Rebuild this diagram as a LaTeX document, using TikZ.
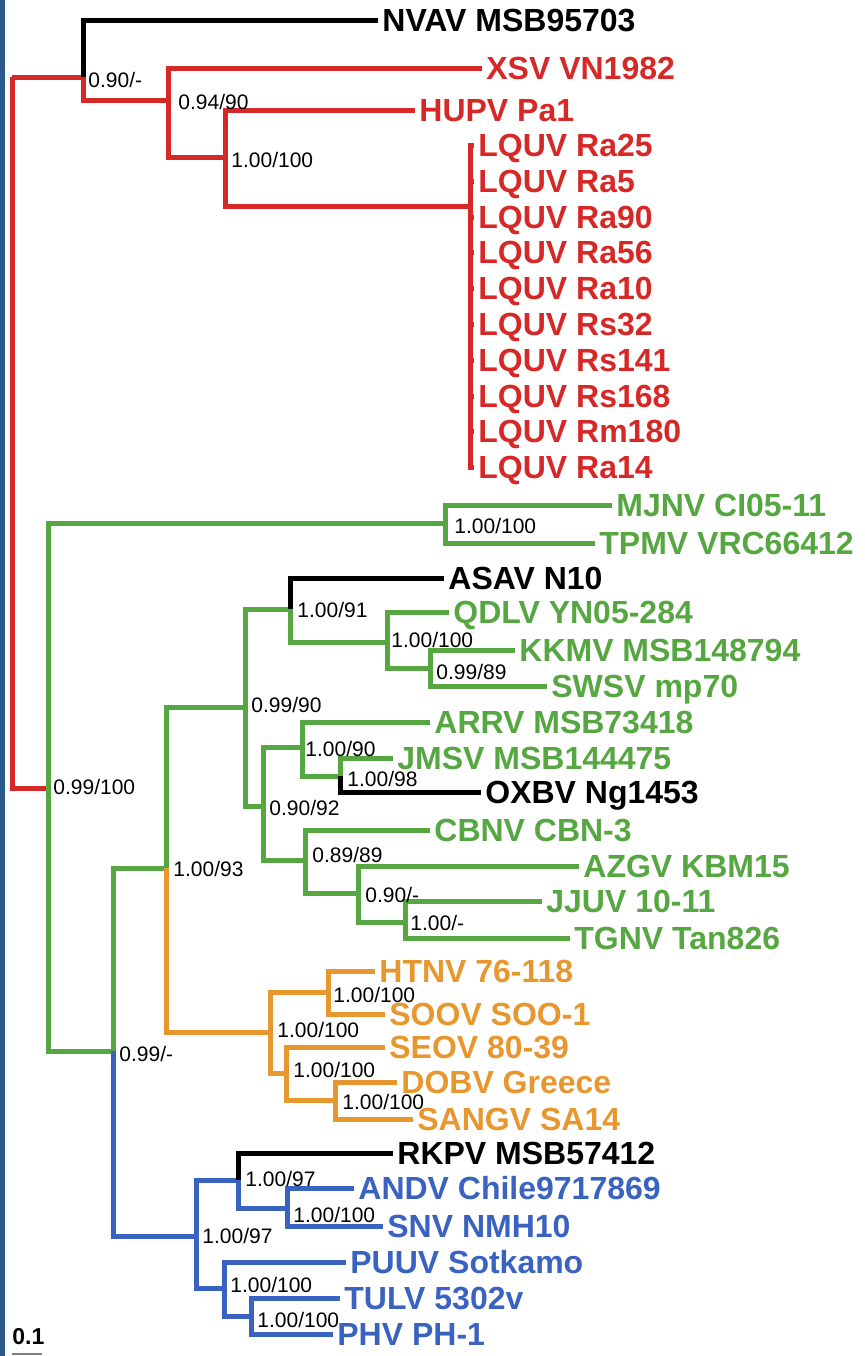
\documentclass[tikz,border=0pt]{standalone}
\usepackage{fontspec}
\setmainfont{Liberation Sans}
\definecolor{tred}{RGB}{214,40,38}
\definecolor{tgreen}{RGB}{86,166,66}
\definecolor{torange}{RGB}{232,150,46}
\definecolor{tblue}{RGB}{58,98,192}
\definecolor{tstrip}{RGB}{42,90,142}
\begin{document}
\begin{tikzpicture}[x=0.5pt,y=-0.5pt,
  br/.style={line width=2.5pt, line cap=butt, line join=miter},
  leaf/.style={anchor=west, inner xsep=2pt, inner ysep=0pt, text height=11.5pt, text depth=0pt, font=\fontsize{16}{18}\selectfont\bfseries},
  supp/.style={anchor=west, inner sep=0pt, text height=7.5pt, text depth=0pt, font=\fontsize{10.5}{12}\selectfont},
  scl/.style={anchor=west, inner sep=0pt, text height=8pt, text depth=0pt, font=\fontsize{11.5}{13}\selectfont\bfseries}]
\useasboundingbox (0,0) rectangle (864,1356);
\fill[tstrip] (0,0) rectangle (5,1356);

% internal nodes (x, join y)
\coordinate (root) at (12,77);
\coordinate (A) at (83,77);
\coordinate (B) at (168,100);
\coordinate (C) at (225,157);
\coordinate (LQ) at (470,206);
\coordinate (G1) at (48,788);
\coordinate (M) at (445,523);
\coordinate (H) at (113,1051);
\coordinate (I) at (166,868);
\coordinate (J) at (245,707);
\coordinate (K) at (290,609);
\coordinate (L) at (387,642);
\coordinate (Mn) at (430,668);
\coordinate (N) at (263,806);
\coordinate (O) at (302,747);
\coordinate (P) at (340,776);
\coordinate (Q) at (305,860);
\coordinate (R) at (358,893);
\coordinate (S) at (405,922);
\coordinate (T) at (270,1032);
\coordinate (U) at (328,992);
\coordinate (V) at (286,1073);
\coordinate (W) at (335,1100);
\coordinate (X) at (196,1236);
\coordinate (Y) at (238,1180);
\coordinate (Z) at (287,1208);
\coordinate (AA) at (224,1288);
\coordinate (AB) at (251,1316);

% tip labels
\node[leaf, text=black] (tNVAV) at (378,20) {NVAV MSB95703};
\node[leaf, text=tred] (tXSV) at (482,68) {XSV VN1982};
\node[leaf, text=tred] (tHUPV) at (415,110) {HUPV Pa1};
\node[leaf, text=tred] (tL1) at (474,145) {LQUV Ra25};
\node[leaf, text=tred] (tL2) at (474,181) {LQUV Ra5};
\node[leaf, text=tred] (tL3) at (474,217) {LQUV Ra90};
\node[leaf, text=tred] (tL4) at (474,252) {LQUV Ra56};
\node[leaf, text=tred] (tL5) at (474,288) {LQUV Ra10};
\node[leaf, text=tred] (tL6) at (474,324) {LQUV Rs32};
\node[leaf, text=tred] (tL7) at (474,360) {LQUV Rs141};
\node[leaf, text=tred] (tL8) at (474,396) {LQUV Rs168};
\node[leaf, text=tred] (tL9) at (474,431) {LQUV Rm180};
\node[leaf, text=tred] (tL10) at (474,467) {LQUV Ra14};
\node[leaf, text=tgreen] (tMJNV) at (612,505) {MJNV CI05-11};
\node[leaf, text=tgreen] (tTPMV) at (595,543) {TPMV VRC66412};
\node[leaf, text=black] (tASAV) at (444,578) {ASAV N10};
\node[leaf, text=tgreen] (tQDLV) at (449,612) {QDLV YN05-284};
\node[leaf, text=tgreen] (tKKMV) at (515,650) {KKMV MSB148794};
\node[leaf, text=tgreen] (tSWSV) at (547,686) {SWSV mp70};
\node[leaf, text=tgreen] (tARRV) at (430,722) {ARRV MSB73418};
\node[leaf, text=tgreen] (tJMSV) at (393,758) {JMSV MSB144475};
\node[leaf, text=black] (tOXBV) at (481,792) {OXBV Ng1453};
\node[leaf, text=tgreen] (tCBNV) at (430,830) {CBNV CBN-3};
\node[leaf, text=tgreen] (tAZGV) at (579,866) {AZGV KBM15};
\node[leaf, text=tgreen] (tJJUV) at (542,901) {JJUV 10-11};
\node[leaf, text=tgreen] (tTGNV) at (570,938) {TGNV Tan826};
\node[leaf, text=torange] (tHTNV) at (375,971) {HTNV 76-118};
\node[leaf, text=torange] (tSOOV) at (385,1014) {SOOV SOO-1};
\node[leaf, text=torange] (tSEOV) at (385,1047) {SEOV 80-39};
\node[leaf, text=torange] (tDOBV) at (397,1082) {DOBV Greece};
\node[leaf, text=torange] (tSANGV) at (413,1119) {SANGV SA14};
\node[leaf, text=black] (tRKPV) at (393,1153) {RKPV MSB57412};
\node[leaf, text=tblue] (tANDV) at (354,1188) {ANDV Chile9717869};
\node[leaf, text=tblue] (tSNV) at (383,1226) {SNV NMH10};
\node[leaf, text=tblue] (tPUUV) at (346,1262) {PUUV Sotkamo};
\node[leaf, text=tblue] (tTULV) at (340,1298) {TULV 5302v};
\node[leaf, text=tblue] (tPHV) at (333,1334) {PHV PH-1};

% branches
\draw[br, tred] (root) |- (A);
\draw[br, tred] (root) |- (G1);
\draw[br, black] (A) |- (tNVAV.west);
\draw[br, tred] (A) |- (B);
\draw[br, tred] (B) |- (tXSV.west);
\draw[br, tred] (B) |- (C);
\draw[br, tred] (C) |- (tHUPV.west);
\draw[br, tred] (C) |- (LQ);
\foreach \t in {tL1,tL2,tL3,tL4,tL5,tL6,tL7,tL8,tL9,tL10}
  \draw[br, tred] (LQ) |- (\t.west);
\draw[br, tgreen] (G1) |- (M);
\draw[br, tgreen] (M) |- (tMJNV.west);
\draw[br, tgreen] (M) |- (tTPMV.west);
\draw[br, tgreen] (G1) |- (H);
\draw[br, tgreen] (H) |- (I);
\draw[br, tgreen] (I) |- (J);
\draw[br, tgreen] (J) |- (K);
\draw[br, black] (K) |- (tASAV.west);
\draw[br, tgreen] (K) |- (L);
\draw[br, tgreen] (L) |- (tQDLV.west);
\draw[br, tgreen] (L) |- (Mn);
\draw[br, tgreen] (Mn) |- (tKKMV.west);
\draw[br, tgreen] (Mn) |- (tSWSV.west);
\draw[br, tgreen] (J) |- (N);
\draw[br, tgreen] (N) |- (O);
\draw[br, tgreen] (O) |- (tARRV.west);
\draw[br, tgreen] (O) |- (P);
\draw[br, tgreen] (P) |- (tJMSV.west);
\draw[br, black] (P) |- (tOXBV.west);
\draw[br, tgreen] (N) |- (Q);
\draw[br, tgreen] (Q) |- (tCBNV.west);
\draw[br, tgreen] (Q) |- (R);
\draw[br, tgreen] (R) |- (tAZGV.west);
\draw[br, tgreen] (R) |- (S);
\draw[br, tgreen] (S) |- (tJJUV.west);
\draw[br, tgreen] (S) |- (tTGNV.west);
\draw[br, torange] (I) |- (T);
\draw[br, torange] (T) |- (U);
\draw[br, torange] (U) |- (tHTNV.west);
\draw[br, torange] (U) |- (tSOOV.west);
\draw[br, torange] (T) |- (V);
\draw[br, torange] (V) |- (tSEOV.west);
\draw[br, torange] (V) |- (W);
\draw[br, torange] (W) |- (tDOBV.west);
\draw[br, torange] (W) |- (tSANGV.west);
\draw[br, tblue] (H) |- (X);
\draw[br, tblue] (X) |- (Y);
\draw[br, black] (Y) |- (tRKPV.west);
\draw[br, tblue] (Y) |- (Z);
\draw[br, tblue] (Z) |- (tANDV.west);
\draw[br, tblue] (Z) |- (tSNV.west);
\draw[br, tblue] (X) |- (AA);
\draw[br, tblue] (AA) |- (tPUUV.west);
\draw[br, tblue] (AA) |- (AB);
\draw[br, tblue] (AB) |- (tTULV.west);
\draw[br, tblue] (AB) |- (tPHV.west);

% support values
\node[supp] (s1) at (88,80) {0.90/-};
\node[supp] (s2) at (178,102) {0.94/90};
\node[supp] (s3) at (231,160) {1.00/100};
\node[supp] (s4) at (454,526) {1.00/100};
\node[supp] (s5) at (53,787) {0.99/100};
\node[supp] (s6) at (297,610) {1.00/91};
\node[supp] (s7) at (391,640) {1.00/100};
\node[supp] (s8) at (436,672) {0.99/89};
\node[supp] (s9) at (251,705) {0.99/90};
\node[supp] (s10) at (305,749) {1.00/90};
\node[supp] (s11) at (347,779) {1.00/98};
\node[supp] (s12) at (269,808) {0.90/92};
\node[supp] (s13) at (312,855) {0.89/89};
\node[supp] (s14) at (173,869) {1.00/93};
\node[supp] (s15) at (365,895) {0.90/-};
\node[supp] (s16) at (410,923) {1.00/-};
\node[supp] (s17) at (333,995) {1.00/100};
\node[supp] (s18) at (277,1030) {1.00/100};
\node[supp] (s19) at (119,1054) {0.99/-};
\node[supp] (s20) at (293,1070) {1.00/100};
\node[supp] (s21) at (342,1102) {1.00/100};
\node[supp] (s22) at (245,1179) {1.00/97};
\node[supp] (s23) at (293,1215) {1.00/100};
\node[supp] (s24) at (202,1236) {1.00/97};
\node[supp] (s25) at (230,1285) {1.00/100};
\node[supp] (s26) at (257,1320) {1.00/100};

% scale bar
\node[scl] (scale) at (12,1336) {0.1};
\coordinate (sb1) at (12,1354);
\coordinate (sb2) at (42,1354);
\draw[gray, line width=1.2pt] (sb1) -- (sb2);
\end{tikzpicture}
\end{document}
